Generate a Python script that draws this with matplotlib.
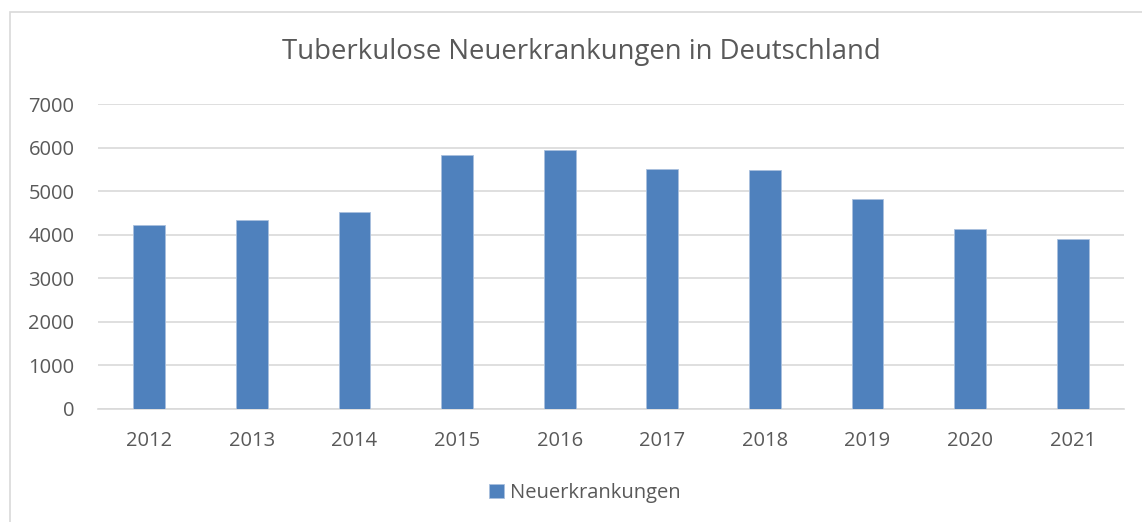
import matplotlib
matplotlib.use("Agg")
import matplotlib.pyplot as plt
from matplotlib.patches import Rectangle

plt.rcParams['font.family'] = ['Open Sans', 'DejaVu Sans']

years = ['2012', '2013', '2014', '2015', '2016', '2017', '2018', '2019', '2020', '2021']
cases = [4220, 4345, 4530, 5840, 5947, 5517, 5494, 4820, 4131, 3901]

textcol = '#595959'
gridcol = '#d9d9d9'
barcol = '#4f81bd'

fig = plt.figure(figsize=(11.42, 5.22), dpi=100)
# outer chart border (right and bottom edges run off the picture)
fig.patches.append(Rectangle((10/1142, -0.2), 1.2, 1.2 - 12/522, transform=fig.transFigure,
                             fill=False, edgecolor=gridcol, linewidth=1.2))

ax = fig.add_axes([98/1142, 1 - 409/522, 1026/1142, 305/522])
x = range(len(years))
bars = ax.bar(x, cases, width=0.31, color=barcol, edgecolor='#a9c0de', linewidth=0.6,
              label='Neuerkrankungen', zorder=3)
ax.set_xlim(-0.5, len(years) - 0.5)
ax.set_ylim(0, 7000)
ax.set_yticks(range(0, 7001, 1000))
ax.set_xticks(list(x))
ax.set_xticklabels(years)
ax.grid(axis='y', color=gridcol, linewidth=1.2, zorder=0)
for s in ['top', 'right', 'left']:
    ax.spines[s].set_visible(False)
ax.spines['bottom'].set_color(gridcol)
ax.spines['bottom'].set_linewidth(1.2)
ax.tick_params(axis='both', length=0, labelsize=14.5, labelcolor=textcol)
ax.tick_params(axis='y', pad=17)
ax.tick_params(axis='x', pad=16)

fig.text(581/1142, 1 - 52/522, 'Tuberkulose Neuerkrankungen in Deutschland',
         ha='center', va='center', fontsize=19.8, color=textcol)

fig.legend(handles=[bars], labels=['Neuerkrankungen'], loc='center',
           bbox_to_anchor=(585/1142, 1 - 493/522), frameon=False, fontsize=14.5,
           labelcolor=textcol, handlelength=0.75, handleheight=0.75, handletextpad=0.3)

fig.savefig('out.png', dpi=100)
